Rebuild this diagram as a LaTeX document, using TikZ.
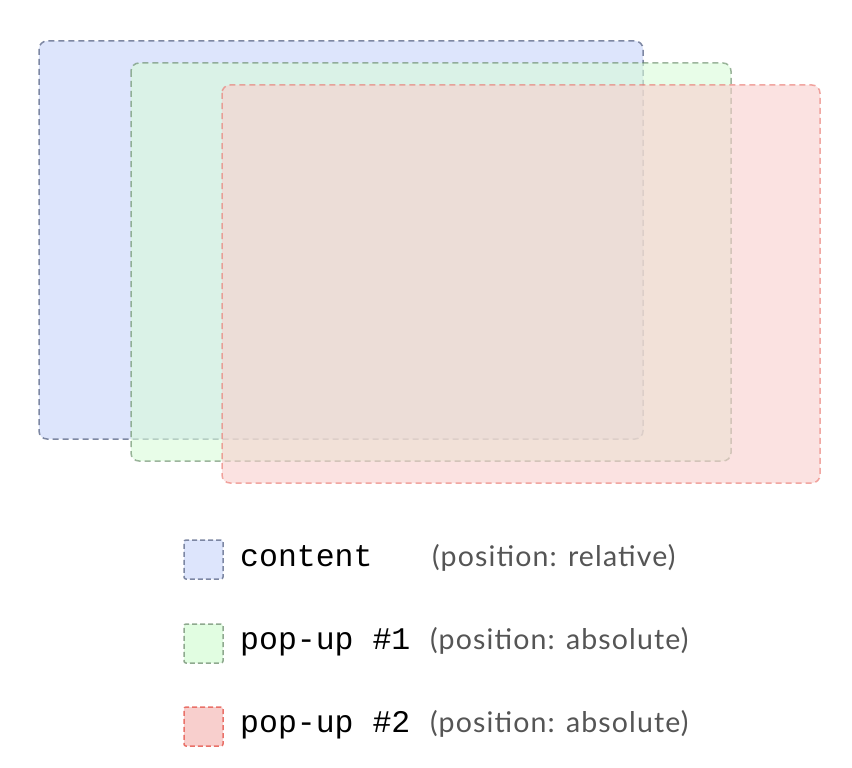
\documentclass[tikz,border=0pt]{standalone}
\usepackage{fontspec}
\setmainfont{Lato}[LetterSpace=4]
\setmonofont{Liberation Mono}
\usepackage{tikz}
\usetikzlibrary{backgrounds}

\definecolor{contentfill}{HTML}{DDE5FC}
\definecolor{contentline}{HTML}{7D87A3}
\definecolor{popafill}{RGB}{217,252,217}
\definecolor{popaline}{RGB}{95,132,95}
\definecolor{popbfill}{RGB}{248,207,205}
\definecolor{popbline}{RGB}{233,113,105}
\definecolor{notegray}{HTML}{555555}

\begin{document}
\begin{tikzpicture}[x=1pt,y=-1pt,
  box/.style={line width=1.5pt, dash pattern=on 6pt off 4pt, rounded corners=8pt},
  layer/.style={opacity=0.6},
  legendkey/.style={minimum size=39pt, inner sep=0pt, line width=1.5pt,
    dash pattern=on 5pt off 3pt, rounded corners=2pt},
  legendname/.style={anchor=base west, inner sep=0pt, font=\fontsize{31.5}{36}\ttfamily},
  legendnote/.style={anchor=base west, inner sep=0pt, font=\fontsize{28.5}{34}\selectfont, text=notegray}]
\useasboundingbox (0,0) rectangle (852,768);

% the three layers
\draw[box, draw=contentline, fill=contentfill] (39,41) rectangle (643,439);
\draw[box, layer, draw=popaline, fill=popafill] (131,63) rectangle (731,461);
\draw[box, layer, draw=popbline, fill=popbfill] (222,85) rectangle (820,483);

% legend
\node[legendkey, draw=contentline, fill=contentfill] (contentkey) at (203.5,559.5) {};
\node[legendname] (contentname) at (240,566) {content};
\node[legendnote] (contentnote) at (432,566) {(position: relative)};

\node[legendkey, draw=popaline!70, fill=popafill!80] (popakey) at (203.5,643.5) {};
\node[legendname] (popaname) at (240,649) {pop-up \#1};
\node[legendnote] (popanote) at (430,649) {(position: absolute)};

\node[legendkey, draw=popbline, fill=popbfill] (popbkey) at (203.5,726.5) {};
\node[legendname] (popbname) at (240,732) {pop-up \#2};
\node[legendnote] (popbnote) at (430,732) {(position: absolute)};
\end{tikzpicture}
\end{document}
